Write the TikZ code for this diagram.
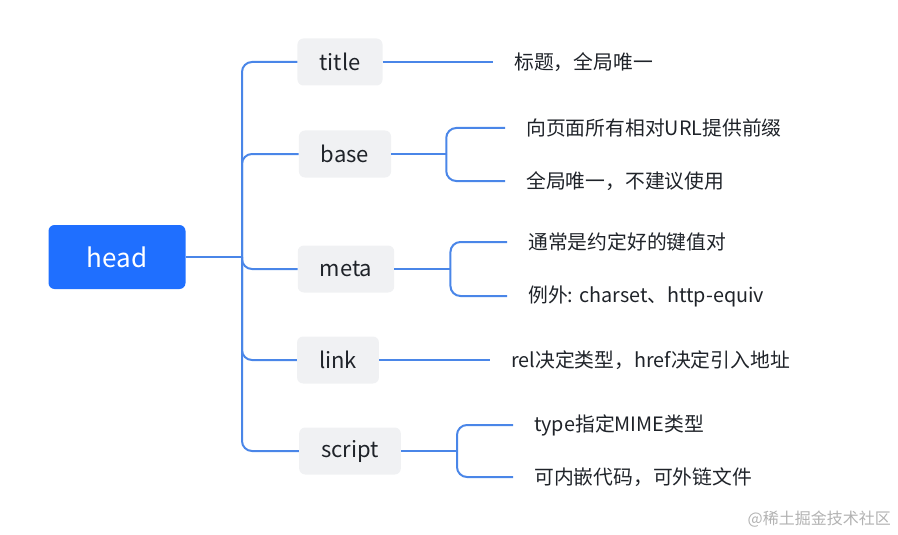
\documentclass[tikz,border=0pt]{standalone}
\usepackage{fontspec}
\setmainfont{Noto Sans CJK SC}
\usetikzlibrary{positioning,calc}
\definecolor{headblue}{HTML}{1F6FFF}
\definecolor{linkblue}{HTML}{4A86E8}
\definecolor{tagGray}{HTML}{F0F1F3}
\definecolor{inkDark}{HTML}{1F2329}
\tikzset{%
	% Specifications for style of nodes:
	root/.style = {rectangle, rounded corners=6pt, fill=headblue,
		minimum width=137pt, minimum height=64pt,
		text=white, font=\fontsize{26}{30}\selectfont},
	tag/.style = {rectangle, rounded corners=6pt, fill=tagGray,
		inner xsep=22pt, minimum height=47pt,
		text=inkDark, font=\fontsize{22}{26}\selectfont},
	leaf/.style = {anchor=west, inner xsep=0pt,
		text=inkDark, font=\fontsize{19.8}{23}\selectfont},
	branch/.style = {draw=linkblue, line width=2pt, rounded corners=10pt},
	twig/.style = {branch, shorten >=21pt},
}

\begin{document}
\begin{tikzpicture}[x=1pt, y=-1pt]
\useasboundingbox (0,0) rectangle (898,535);
%% Specification of nodes (position, etc.)
\node (head)    [root] at (117,257) {head};

\node (title)   [tag] at (340,62)  {title};
\node (base)    [tag] at (345,154) {base};
\node (meta)    [tag] at (346,269) {meta};
\node (link)    [tag] at (338,360) {link};
\node (script)  [tag] at (350,451) {script};

\node (title1)  [leaf] at (514,62)  {标题，全局唯一};
\node (base1)   [leaf] at (526,128) {向页面所有相对URL提供前缀};
\node (base2)   [leaf] at (526,181) {全局唯一，不建议使用};
\node (meta1)   [leaf] at (528,242) {通常是约定好的键值对};
\node (meta2)   [leaf] at (528,296) {例外: charset、http-equiv};
\node (link1)   [leaf] at (511,360) {rel决定类型，href决定引入地址};
\node (script1) [leaf] at (534,425) {type指定MIME类型};
\node (script2) [leaf] at (534,477) {可内嵌代码，可外链文件};

\node (mark) [anchor=east, inner sep=0pt, text=black!30,
	font=\fontsize{16}{18}\selectfont] at (891,519) {@稀土掘金技术社区};

%% junction points
\coordinate (trunk) at (242,257);
\coordinate (basej)   at ([xshift=55pt]base.east);
\coordinate (metaj)   at ([xshift=56pt]meta.east);
\coordinate (scriptj) at ([xshift=56pt]script.east);

%% Specification of lines between nodes specified above
\draw[branch]  (head.east) -- (trunk);
\draw[branch]  (trunk) |- (title.west);
\draw[branch]  (trunk) |- (base.west);
\draw[branch]  (trunk) |- (meta.west);
\draw[branch]  (trunk) |- (link.west);
\draw[branch]  (trunk) |- (script.west);

\draw[twig]    (title.east) -- (title1.west);
\draw[branch]  (base.east) -- (basej);
\draw[twig]    (basej) |- (base1.west);
\draw[twig]    (basej) |- (base2.west);
\draw[branch]  (meta.east) -- (metaj);
\draw[twig]    (metaj) |- (meta1.west);
\draw[twig]    (metaj) |- (meta2.west);
\draw[twig]    (link.east) -- (link1.west);
\draw[branch]  (script.east) -- (scriptj);
\draw[twig]    (scriptj) |- (script1.west);
\draw[twig]    (scriptj) |- (script2.west);
\end{tikzpicture}
\end{document}
